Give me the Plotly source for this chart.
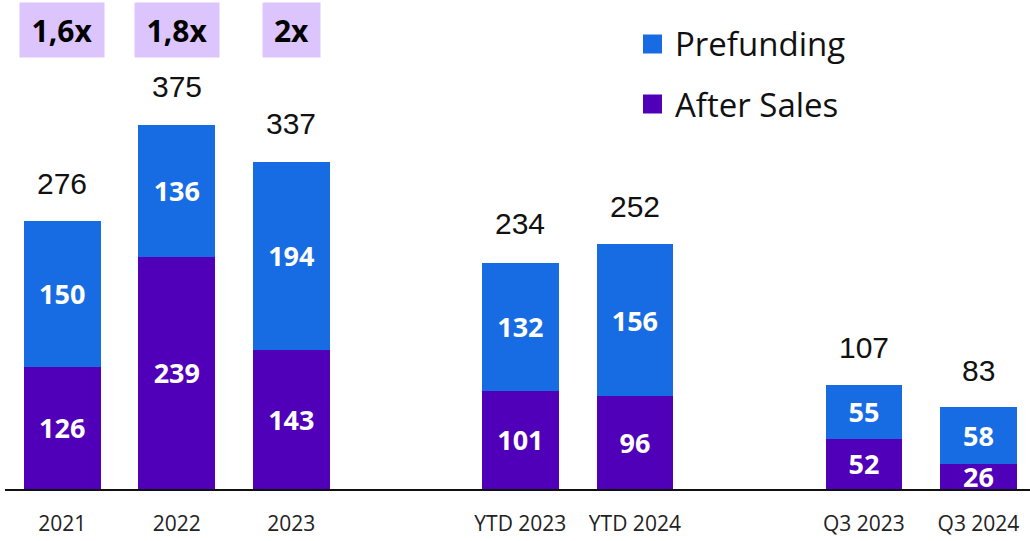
import plotly.graph_objects as go

categories = ["2021", "2022", "2023", "YTD 2023", "YTD 2024", "Q3 2023", "Q3 2024"]
after_sales = [126, 239, 143, 101, 96, 52, 26]
prefunding = [150, 136, 194, 132, 156, 55, 58]
totals = [276, 375, 337, 234, 252, 107, 83]
multiple_categories = ["2021", "2022", "2023"]
multiples = ["1,6x", "1,8x", "2x"]
axis_order = ["2021", "2022", "2023", " ", "YTD 2023", "YTD 2024", "  ", "Q3 2023", "Q3 2024"]

BLUE = "#176CE3"
PURPLE = "#5000B8"
BOX = "#DCC4FD"

fig = go.Figure()
inside_font = dict(family="Open Sans", size=27, color="white", weight="bold")
fig.add_trace(go.Bar(
    name="After Sales", x=categories, y=after_sales, marker=dict(color=PURPLE, line=dict(width=0)),
    text=[str(v) for v in after_sales], textposition="inside", insidetextanchor="middle",
    textangle=0, textfont=inside_font, constraintext="none", showlegend=False, hoverinfo="skip"))
fig.add_trace(go.Bar(
    name="Prefunding", x=categories, y=prefunding, marker=dict(color=BLUE, line=dict(width=0)),
    text=[str(v) for v in prefunding], textposition="inside", insidetextanchor="middle",
    textangle=0, textfont=inside_font, constraintext="none", showlegend=False, hoverinfo="skip"))

annotations = []
for c, t in zip(categories, totals):
    annotations.append(dict(x=axis_order.index(c), y=t, xref="x", yref="y", text=str(t), showarrow=False,
                            yanchor="middle", yshift=38,
                            font=dict(family="Liberation Sans, Arial", size=30, color="#111111")))
for c, m in zip(multiple_categories, multiples):
    annotations.append(dict(x=axis_order.index(c), y=1 - 30 / 489, xref="x", yref="paper", text=m,
                            showarrow=False, xanchor="center", yanchor="middle", bgcolor=BOX,
                            width=(70 if len(m) > 2 else 43), height=40, borderpad=7, valign="middle",
                            font=dict(family="Open Sans", size=30, color="black", weight="bold")))

# manual legend
legend_items = [("Prefunding", BLUE, 44), ("After Sales", PURPLE, 104)]
shapes = []
for label, col, yc in legend_items:
    shapes.append(dict(type="rect", xref="paper", yref="paper",
                       x0=(643 - 5) / 1025, x1=(662 - 5) / 1025,
                       y0=1 - (yc + 9.5) / 489, y1=1 - (yc - 9.5) / 489,
                       fillcolor=col, line=dict(width=0)))
    annotations.append(dict(x=(673 - 5) / 1025, y=1 - yc / 489, xref="paper", yref="paper",
                            text=label, showarrow=False, xanchor="left", yanchor="middle",
                            font=dict(family="Open Sans", size=33, color="#111111")))

fig.update_layout(
    barmode="stack", bargap=0.33,
    width=1030, height=541,
    margin=dict(l=5, r=0, t=0, b=52),
    plot_bgcolor="white", paper_bgcolor="white",
    annotations=annotations, shapes=shapes,
    showlegend=False,
    xaxis=dict(type="category", categoryorder="array", categoryarray=axis_order,
               range=[-0.5, 8.45], showline=True, linecolor="#111111", linewidth=2,
               ticks="", showgrid=False, zeroline=False, ticklabelstandoff=15,
               tickfont=dict(family="Open Sans", size=21, color="#222222")),
    yaxis=dict(range=[0, 489 / 0.971], visible=False, showgrid=False, zeroline=False),
)

fig.write_html("out.html", config={"displayModeBar": False},
               post_script="document.body.style.margin='0';document.body.style.overflow='hidden';")
